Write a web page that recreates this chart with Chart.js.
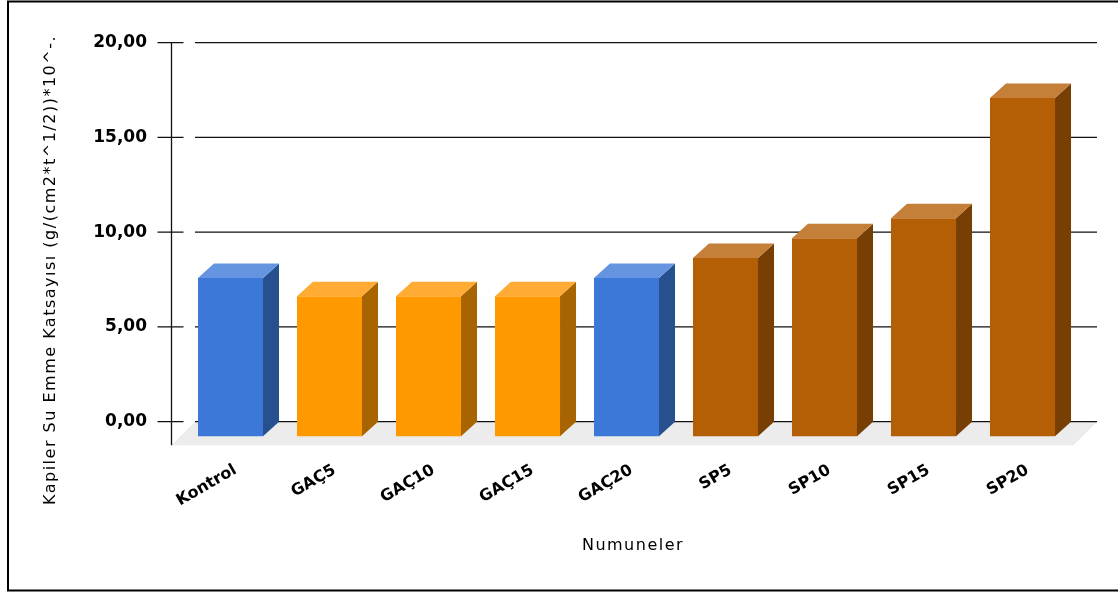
<!DOCTYPE html>
<html>
<head>
<meta charset="utf-8">
<title>Kapiler Su Emme</title>
<script src="https://cdn.jsdelivr.net/npm/chart.js@4.4.1/dist/chart.umd.min.js"></script>
<style>
  html, body { margin: 0; padding: 0; background: #fff; }
  #kapilerChart { display: block; }
</style>
</head>
<body>
<canvas id="kapilerChart" width="1118" height="592"></canvas>
<script>
// numuneler ve kapiler su emme katsayilari
const categories = ['Kontrol', 'GAÇ5', 'GAÇ10', 'GAÇ15', 'GAÇ20', 'SP5', 'SP10', 'SP15', 'SP20'];
const values = [8.35, 7.38, 7.38, 7.38, 8.35, 9.4, 10.45, 11.5, 17.85];
const groups = ['kontrol', 'gac', 'gac', 'gac', 'kontrol', 'sp', 'sp', 'sp', 'sp'];
const yTicks = [0, 5, 10, 15, 20];

const xTitle = 'Numuneler';
const yTitle = 'Kapiler Su Emme Katsayısı (g/(cm2*t^1/2))*10^-.';

// renkler: on yuz, ust yuz, yan yuz
const frontColors = { kontrol: '#3c78d8', gac: '#ff9900', sp: '#b45f06' };
const topColors   = { kontrol: '#6595e0', gac: '#ffab34', sp: '#c47f38' };
const sideColors  = { kontrol: '#27508f', gac: '#a86400', sp: '#783f04' };

const DX = 16, DY = 14.5;   // 3D derinlik kaymasi
const FLOOR = 23.5;         // zemin derinligi

const bar3d = {
  id: 'bar3d',
  beforeDraw(chart) {
    const { ctx, width, height } = chart;
    ctx.save();
    ctx.fillStyle = '#fff';
    ctx.fillRect(0, 0, width, height);
    ctx.strokeStyle = '#000';
    ctx.lineWidth = 2;
    ctx.strokeRect(8, 1.5, width + 20, height - 3);
    ctx.restore();
  },
  beforeDatasetsDraw(chart) {
    const { ctx, chartArea: a, scales: { y } } = chart;
    const y0 = y.getPixelForValue(0);
    const wallL = a.left - 2, wallR = a.right + 9;

    ctx.save();
    // zemin
    ctx.fillStyle = '#ececec';
    ctx.beginPath();
    ctx.moveTo(wallL, y0);
    ctx.lineTo(wallR, y0);
    ctx.lineTo(wallR - FLOOR, y0 + FLOOR);
    ctx.lineTo(wallL - FLOOR, y0 + FLOOR);
    ctx.closePath();
    ctx.fill();

    // izgara cizgileri ve eksen
    ctx.strokeStyle = '#111';
    ctx.lineWidth = 1.3;
    const axisX = wallL - FLOOR;
    yTicks.forEach(v => {
      const py = y.getPixelForValue(v);
      ctx.beginPath();
      ctx.moveTo(wallL, py);
      ctx.lineTo(wallR, py);
      ctx.moveTo(axisX - 14, py);
      ctx.lineTo(axisX + 12, py);
      ctx.stroke();
    });
    ctx.beginPath();
    ctx.moveTo(axisX, y.getPixelForValue(20));
    ctx.lineTo(axisX, y0 + FLOOR);
    ctx.stroke();
    ctx.restore();

    // on yuzler one kaydirilmis cizilir
    ctx.save();
    ctx.translate(-DX, DY);
  },
  afterDatasetsDraw(chart) {
    const { ctx } = chart;
    ctx.restore();
    const meta = chart.getDatasetMeta(0);
    ctx.save();
    meta.data.forEach((bar, i) => {
      const { x, y, base, width } = bar.getProps(['x', 'y', 'base', 'width'], true);
      const xl = x - width / 2, xr = x + width / 2;
      const g = groups[i];
      // yan yuz
      ctx.fillStyle = sideColors[g];
      ctx.beginPath();
      ctx.moveTo(xr - DX, y + DY);
      ctx.lineTo(xr, y);
      ctx.lineTo(xr, base);
      ctx.lineTo(xr - DX, base + DY);
      ctx.closePath();
      ctx.fill();
      // ust yuz
      ctx.fillStyle = topColors[g];
      ctx.beginPath();
      ctx.moveTo(xl - DX, y + DY);
      ctx.lineTo(xr - DX, y + DY);
      ctx.lineTo(xr, y);
      ctx.lineTo(xl, y);
      ctx.closePath();
      ctx.fill();
    });
    ctx.restore();
  },
  afterDraw(chart) {
    const { ctx } = chart;
    ctx.save();
    ctx.fillStyle = '#000';
    ctx.font = '16px "DejaVu Sans"';
    ctx.letterSpacing = '1.5px';
    ctx.textAlign = 'center';
    ctx.textBaseline = 'middle';
    ctx.fillText(xTitle, 633, 546);
    ctx.translate(51, 270);
    ctx.rotate(-Math.PI / 2);
    ctx.fillText(yTitle, 0, 0);
    ctx.restore();
  }
};

new Chart(document.getElementById('kapilerChart'), {
  type: 'bar',
  data: {
    labels: categories,
    datasets: [{
      data: values,
      backgroundColor: groups.map(g => frontColors[g]),
      borderWidth: 0,
      barPercentage: 0.657,
      categoryPercentage: 1,
      clip: false
    }]
  },
  options: {
    responsive: false,
    animation: false,
    events: [],
    layout: { padding: { top: 42.7, right: 30, left: 0, bottom: 0 } },
    plugins: {
      legend: { display: false },
      tooltip: { enabled: false }
    },
    scales: {
      x: {
        grid: { display: false, drawTicks: false },
        border: { display: false },
        afterFit: s => { s.height = 170.3; },
        ticks: {
          color: '#000',
          font: { family: 'DejaVu Sans', size: 16, weight: 'bold' },
          minRotation: 30,
          maxRotation: 30,
          autoSkip: false,
          padding: 39,
          labelOffset: -11
        }
      },
      y: {
        min: 0,
        max: 20,
        // tick cizgileri eklentide; buradaki uzunluk yalnizca etiket araligi
        grid: { display: false, drawTicks: true, tickLength: 50 },
        border: { display: false },
        afterFit: s => { s.width = 197; },
        afterBuildTicks: s => { s.ticks = yTicks.map(v => ({ value: v })); },
        ticks: {
          color: '#000',
          padding: 0,
          font: { family: 'DejaVu Sans', size: 17, weight: 'bold' },
          callback: v => v.toFixed(2).replace('.', ',')
        }
      }
    }
  },
  plugins: [bar3d]
});
</script>
</body>
</html>
